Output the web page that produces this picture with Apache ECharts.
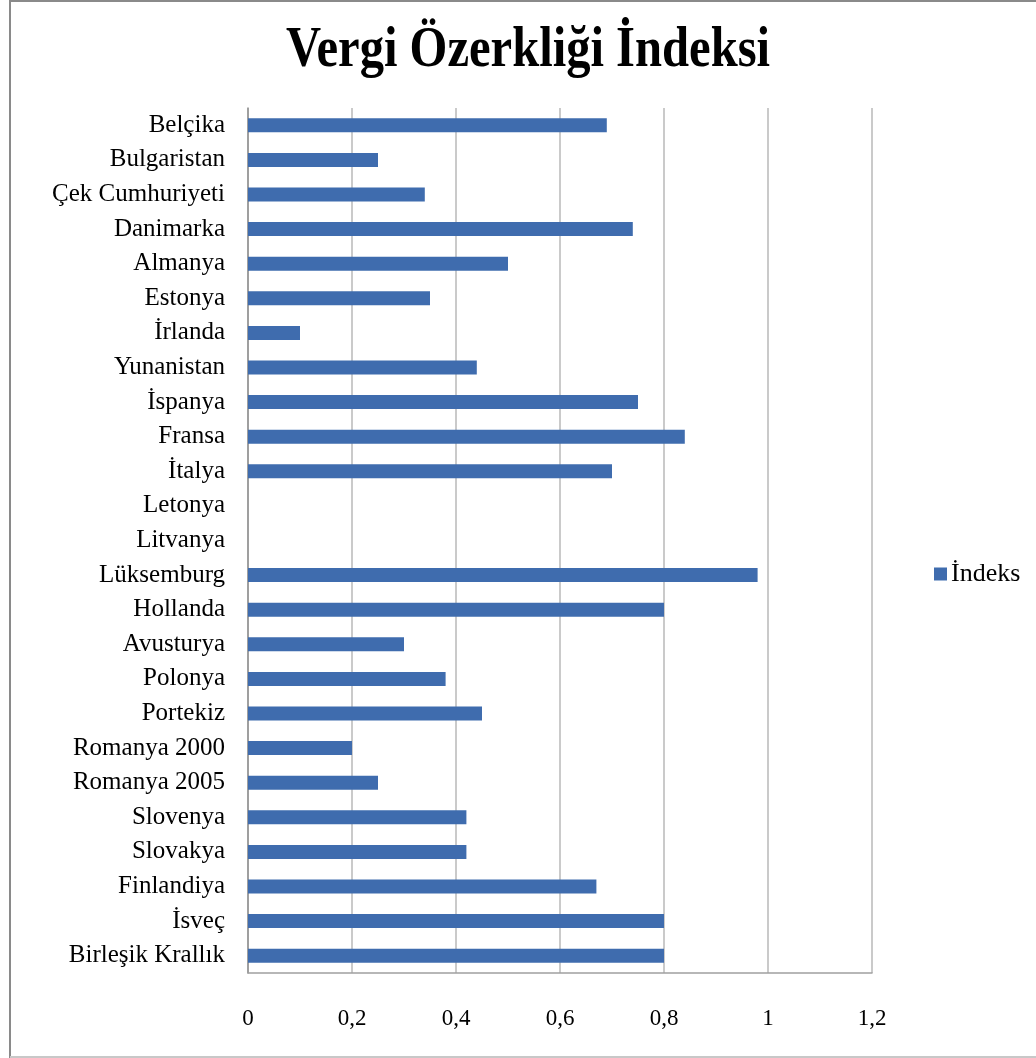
<!DOCTYPE html>
<html><head><meta charset="utf-8">
<script src="https://cdn.jsdelivr.net/npm/echarts@6/dist/echarts.min.js"></script>
<style>html,body{margin:0;padding:0;background:#fff}#c{width:1036px;height:1058px}</style>
</head><body><div id="c"></div>
<script>
const titleText = "Vergi Özerkliği İndeksi";
const seriesName = "İndeks";
const categories = ["Belçika","Bulgaristan","Çek Cumhuriyeti","Danimarka","Almanya","Estonya","İrlanda","Yunanistan","İspanya","Fransa","İtalya","Letonya","Litvanya","Lüksemburg","Hollanda","Avusturya","Polonya","Portekiz","Romanya 2000","Romanya 2005","Slovenya","Slovakya","Finlandiya","İsveç","Birleşik Krallık"];
const values = [0.69,0.25,0.34,0.74,0.50,0.35,0.10,0.44,0.75,0.84,0.70,0,0,0.98,0.80,0.30,0.38,0.45,0.20,0.25,0.42,0.42,0.67,0.80,0.80];
const xMin = 0, xMax = 1.2, xStep = 0.2;

const chart = echarts.init(document.getElementById('c'));
const serif = '"Liberation Serif","Times New Roman",serif';
chart.setOption({
  animation:false,
  backgroundColor:'#fff',
  legend:{show:true,left:929,top:556,itemWidth:13,itemHeight:13,itemGap:4,icon:'rect',
    textStyle:{fontFamily:serif,fontSize:26,color:'#000',padding:[0,0,0,-1]},data:[seriesName]},
  grid:{left:248,right:164,top:108,bottom:85,containLabel:false},
  xAxis:{type:'value',min:xMin,max:xMax,interval:xStep,
    axisLine:{show:true,lineStyle:{color:'#a0a0a0',width:1.5}},
    axisTick:{show:false},
    splitLine:{show:true,lineStyle:{color:'#b8b8b8',width:1.5}},
    axisLabel:{margin:34,fontFamily:serif,fontSize:23,color:'#000',
      formatter:v=>String(Math.round(v*10)/10).replace('.',',')}},
  yAxis:{type:'category',data:categories,inverse:true,
    axisLine:{show:true,lineStyle:{color:'#909090',width:1.5}},
    axisTick:{show:false},
    axisLabel:{margin:23,fontFamily:serif,fontSize:25,color:'#000'}},
  series:[{type:'bar',name:seriesName,data:values,barWidth:14,
    itemStyle:{color:'#3F6CAE'}}],
  graphic:[
    {type:'text',x:528,y:80,scaleX:0.9,scaleY:1.05,
      style:{text:titleText,fontFamily:serif,fontWeight:'bold',fontSize:54,fill:'#000',
        textAlign:'center',textVerticalAlign:'bottom'}},
    {type:'line',shape:{x1:10,y1:0,x2:10,y2:1058},style:{stroke:'#8a8a8a',lineWidth:2}},
    {type:'line',shape:{x1:9,y1:1,x2:1036,y2:1},style:{stroke:'#8a8a8a',lineWidth:2}},
    {type:'line',shape:{x1:10,y1:1057,x2:1036,y2:1057},style:{stroke:'#c8c8c8',lineWidth:2}}
  ]
});
</script></body></html>
